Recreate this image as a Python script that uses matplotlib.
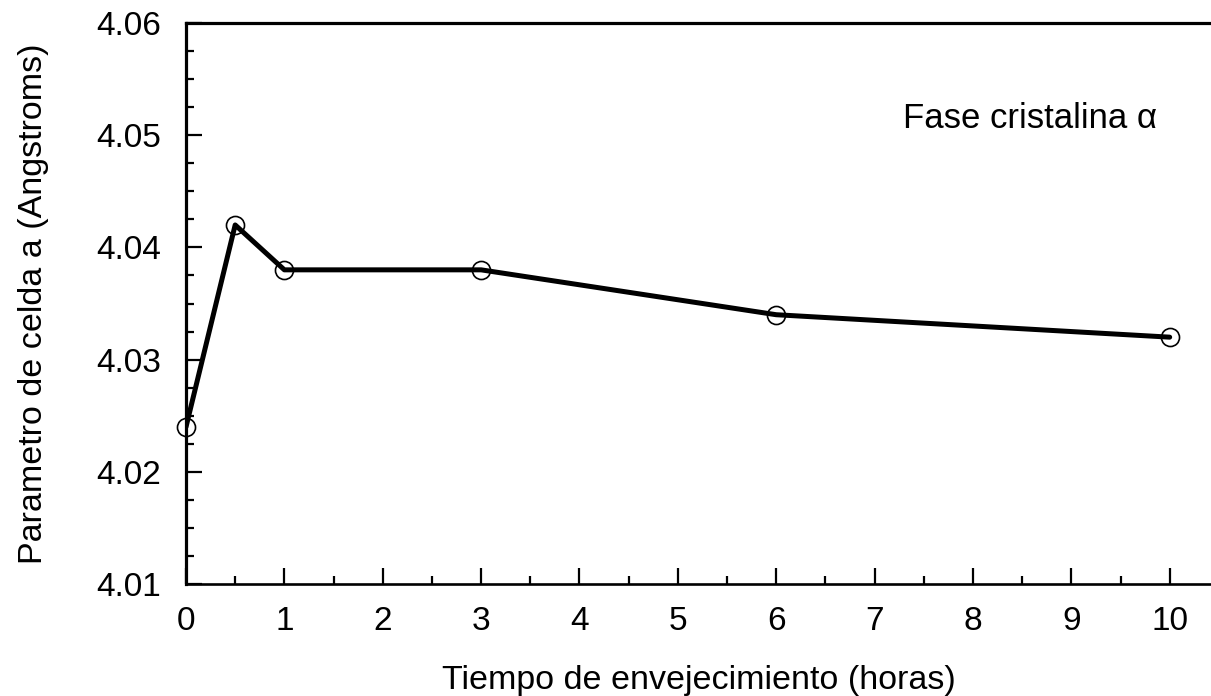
import matplotlib
matplotlib.use("Agg")
import matplotlib.pyplot as plt
from matplotlib.ticker import MultipleLocator, FormatStrFormatter

# Aging time (hours) and lattice parameter a (Angstroms)
tiempo = [0, 0.5, 1, 3, 6, 10]
parametro = [4.024, 4.042, 4.038, 4.038, 4.034, 4.032]

x_ticks = [0, 1, 2, 3, 4, 5, 6, 7, 8, 9, 10]
y_ticks = [4.01, 4.02, 4.03, 4.04, 4.05, 4.06]

plt.rcParams['font.family'] = ['Liberation Sans', 'DejaVu Sans']

W, H = 1211, 696
fig = plt.figure(figsize=(W / 100, H / 100), dpi=100)
ax = fig.add_axes([186 / W, 1 - 584 / H, 1 - 186 / W, (584 - 23) / H])

ax.plot(tiempo, parametro, color='black', lw=3.6, solid_joinstyle='round',
        solid_capstyle='round', zorder=2)
ax.plot(tiempo, parametro, ls='none', marker='o', ms=13, mfc='none',
        mec='black', mew=1.2, zorder=3, clip_on=False)

ax.set_xlim(0, 10.42)
ax.set_ylim(4.01, 4.06)
ax.set_xticks(x_ticks)
ax.set_yticks(y_ticks)
ax.yaxis.set_major_formatter(FormatStrFormatter('%.2f'))
ax.xaxis.set_minor_locator(MultipleLocator(0.5))
ax.yaxis.set_minor_locator(MultipleLocator(0.0025))

ax.tick_params(which='major', direction='in', length=11.5, width=1.6,
               labelsize=24, pad=16)
ax.tick_params(which='minor', direction='in', length=6, width=1.6)
ax.tick_params(axis='y', which='major', pad=18)

for side in ('left', 'top'):
    ax.spines[side].set_linewidth(2.3)
ax.spines['bottom'].set_linewidth(1.9)
ax.spines['right'].set_visible(False)

ax.set_xlabel('Tiempo de envejecimiento (horas)', fontsize=24.5, labelpad=20)
ax.set_ylabel('Parametro de celda a (Angstroms)', fontsize=24.5, labelpad=34)

# phase annotation, right-aligned in the upper-right corner
ax.text(0.947, 0.813, 'Fase cristalina α', transform=ax.transAxes,
        fontsize=25, ha='right', va='baseline')

fig.savefig('out.png', dpi=100)
